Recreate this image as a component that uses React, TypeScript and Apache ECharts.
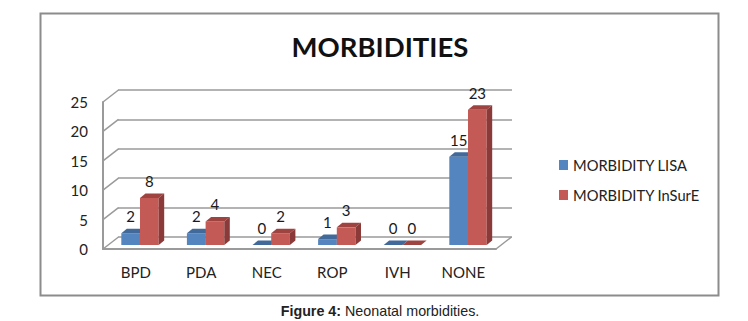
import React, { useEffect, useRef } from "react";
import * as echarts from "echarts";

const categories = ["BPD", "PDA", "NEC", "ROP", "IVH", "NONE"];
const lisaValues = [2, 2, 0, 1, 0, 15];
const insureValues = [8, 4, 2, 3, 0, 23];
const yTicks = [0, 5, 10, 15, 20, 25];

const FONT = "Lato, 'Open Sans', sans-serif";
const GRID_COLOR = "#9a9a9a";

function barRenderer(side: number, front: string, top: string, flank: string) {
  return (params: any, api: any) => {
    const cat = api.value(0);
    const val = api.value(1);
    const base = api.coord([cat, 0]);
    const head = api.coord([cat, val]);
    const bw = api.size([1, 0])[0] * 0.285;
    const x0 = base[0] + (side < 0 ? -bw : 0);
    const x1 = x0 + bw;
    const dx = 5.5;
    const dy = -4.5;
    const y0 = base[1];
    const y1 = head[1];
    return {
      type: "group",
      children: [
        { type: "rect", shape: { x: x0, y: y1, width: bw, height: y0 - y1 }, style: { fill: front } },
        { type: "polygon", shape: { points: [[x0, y1], [x1, y1], [x1 + dx, y1 + dy], [x0 + dx, y1 + dy]] }, style: { fill: top } },
        { type: "polygon", shape: { points: [[x1, y1], [x1 + dx, y1 + dy], [x1 + dx, y0 + dy], [x1, y0]] }, style: { fill: flank } },
        {
          type: "text",
          style: {
            x: (x0 + x1) / 2,
            y: y1 - 17,
            text: String(val),
            fill: "#1a1a1a",
            font: `15px ${FONT}`,
            align: "center",
            verticalAlign: "middle",
          },
          z2: 10,
        },
      ],
    };
  };
}

function wallRenderer(params: any, api: any) {
  const p = api.coord([0, api.value(0)]);
  const x = p[0] - api.size([1, 0])[0] / 2;
  return {
    type: "line",
    shape: { x1: x, y1: p[1], x2: x + 15.5, y2: p[1] - 12 },
    style: { stroke: GRID_COLOR, lineWidth: 1.5 },
  };
}

function floorEdgeRenderer(params: any, api: any) {
  const p = api.coord([categories.length - 1, api.value(0)]);
  const x = p[0] + api.size([1, 0])[0] / 2;
  return {
    type: "line",
    shape: { x1: x, y1: p[1], x2: x + 15.5, y2: p[1] - 12 },
    style: { stroke: GRID_COLOR, lineWidth: 1.5 },
  };
}

export default function App() {
  const ref = useRef<HTMLDivElement>(null);
  useEffect(() => {
    document.body.style.background = "#fff";
    const chart = echarts.init(ref.current!, undefined, { renderer: "svg" });
    const hiddenX = { type: "category" as const, data: categories, show: false };
    const hiddenY = { type: "value" as const, min: 0, max: 25, interval: 5, show: false };
    chart.setOption({
      animation: false,
      backgroundColor: "#ffffff",
      title: [
        {
          text: "MORBIDITIES",
          left: 375,
          top: 27,
          textAlign: "center",
          textStyle: { fontFamily: FONT, fontSize: 27.5, fontWeight: "bold", color: "#111" },
        },
        {
          text: "{b|Figure 4:} {n|Neonatal morbidities.}",
          left: 375,
          top: 298,
          textAlign: "center",
          textStyle: {
            fontWeight: "normal",
            fontFamily: "'Liberation Sans', Arial, sans-serif",
            fontSize: 14.3,
            lineHeight: 16,
            rich: {
              b: { fontFamily: "'Liberation Sans', Arial, sans-serif", fontSize: 14.3, lineHeight: 16, fontWeight: "bold", color: "#222" },
              n: { fontFamily: "'Liberation Sans', Arial, sans-serif", fontSize: 14.3, lineHeight: 16, fontWeight: "normal", color: "#222" },
            },
          },
        },
      ],
      legend: {
        orient: "vertical",
        left: 554,
        top: 152.5,
        itemWidth: 9,
        itemHeight: 10,
        itemGap: 15,
        icon: "rect",
        textStyle: { fontFamily: FONT, fontSize: 14.7, color: "#222" },
        data: ["MORBIDITY LISA", "MORBIDITY InSurE"],
      },
      graphic: [
        {
          type: "rect",
          shape: { x: 40.5, y: 13.5, width: 678, height: 282 },
          style: { fill: "none", stroke: "#8c8c8c", lineWidth: 2 },
          silent: true,
        },
      ],
      grid: [
        { left: 103, width: 393, top: 102, height: 147 },
        { left: 118, width: 394, top: 90, height: 147 },
        { left: 107.2, width: 393.6, top: 98, height: 147 },
      ],
      xAxis: [
        {
          type: "category",
          data: categories,
          gridIndex: 0,
          axisTick: { show: false },
          axisLine: { show: true, lineStyle: { color: GRID_COLOR, width: 2 } },
          axisLabel: { fontFamily: FONT, fontSize: 15, color: "#222", margin: 15 },
        },
        { ...hiddenX, gridIndex: 1 },
        { ...hiddenX, gridIndex: 2 },
      ],
      yAxis: [
        {
          type: "value",
          min: 0,
          max: 25,
          interval: 5,
          gridIndex: 0,
          splitLine: { show: false },
          axisTick: { show: false },
          axisLine: { show: true, lineStyle: { color: GRID_COLOR, width: 2 } },
          axisLabel: { fontFamily: FONT, fontSize: 15, color: "#222", margin: 15 },
        },
        {
          type: "value",
          min: 0,
          max: 25,
          interval: 5,
          gridIndex: 1,
          axisLabel: { show: false },
          axisTick: { show: false },
          axisLine: { show: false },
          splitLine: { show: true, lineStyle: { color: GRID_COLOR, width: 1.5 } },
        },
        { ...hiddenY, gridIndex: 2 },
      ],
      series: [
        {
          type: "custom",
          name: "walls",
          xAxisIndex: 0,
          yAxisIndex: 0,
          renderItem: wallRenderer,
          data: yTicks.map((t) => [t]),
          encode: { y: 0 },
          silent: true,
          tooltip: { show: false },
        },
        {
          type: "custom",
          name: "floor edge",
          xAxisIndex: 0,
          yAxisIndex: 0,
          renderItem: floorEdgeRenderer,
          data: [[yTicks[0]]],
          encode: { y: 0 },
          silent: true,
        },
        {
          type: "custom",
          name: "MORBIDITY LISA",
          xAxisIndex: 2,
          yAxisIndex: 2,
          z: 3,
          itemStyle: { color: "#5585BE" },
          renderItem: barRenderer(-1, "#5585BE", "#41699A", "#3A5F8C"),
          data: lisaValues.map((v, i) => [i, v]),
          encode: { x: 0, y: 1 },
        },
        {
          type: "custom",
          name: "MORBIDITY InSurE",
          xAxisIndex: 2,
          yAxisIndex: 2,
          z: 4,
          itemStyle: { color: "#C45A56" },
          renderItem: barRenderer(1, "#C45A56", "#9E4340", "#8A3A38"),
          data: insureValues.map((v, i) => [i, v]),
          encode: { x: 0, y: 1 },
        },
      ],
    });
    return () => chart.dispose();
  }, []);
  return <div ref={ref} style={{ position: "fixed", left: 0, top: 0, width: 748, height: 321 }} />;
}
